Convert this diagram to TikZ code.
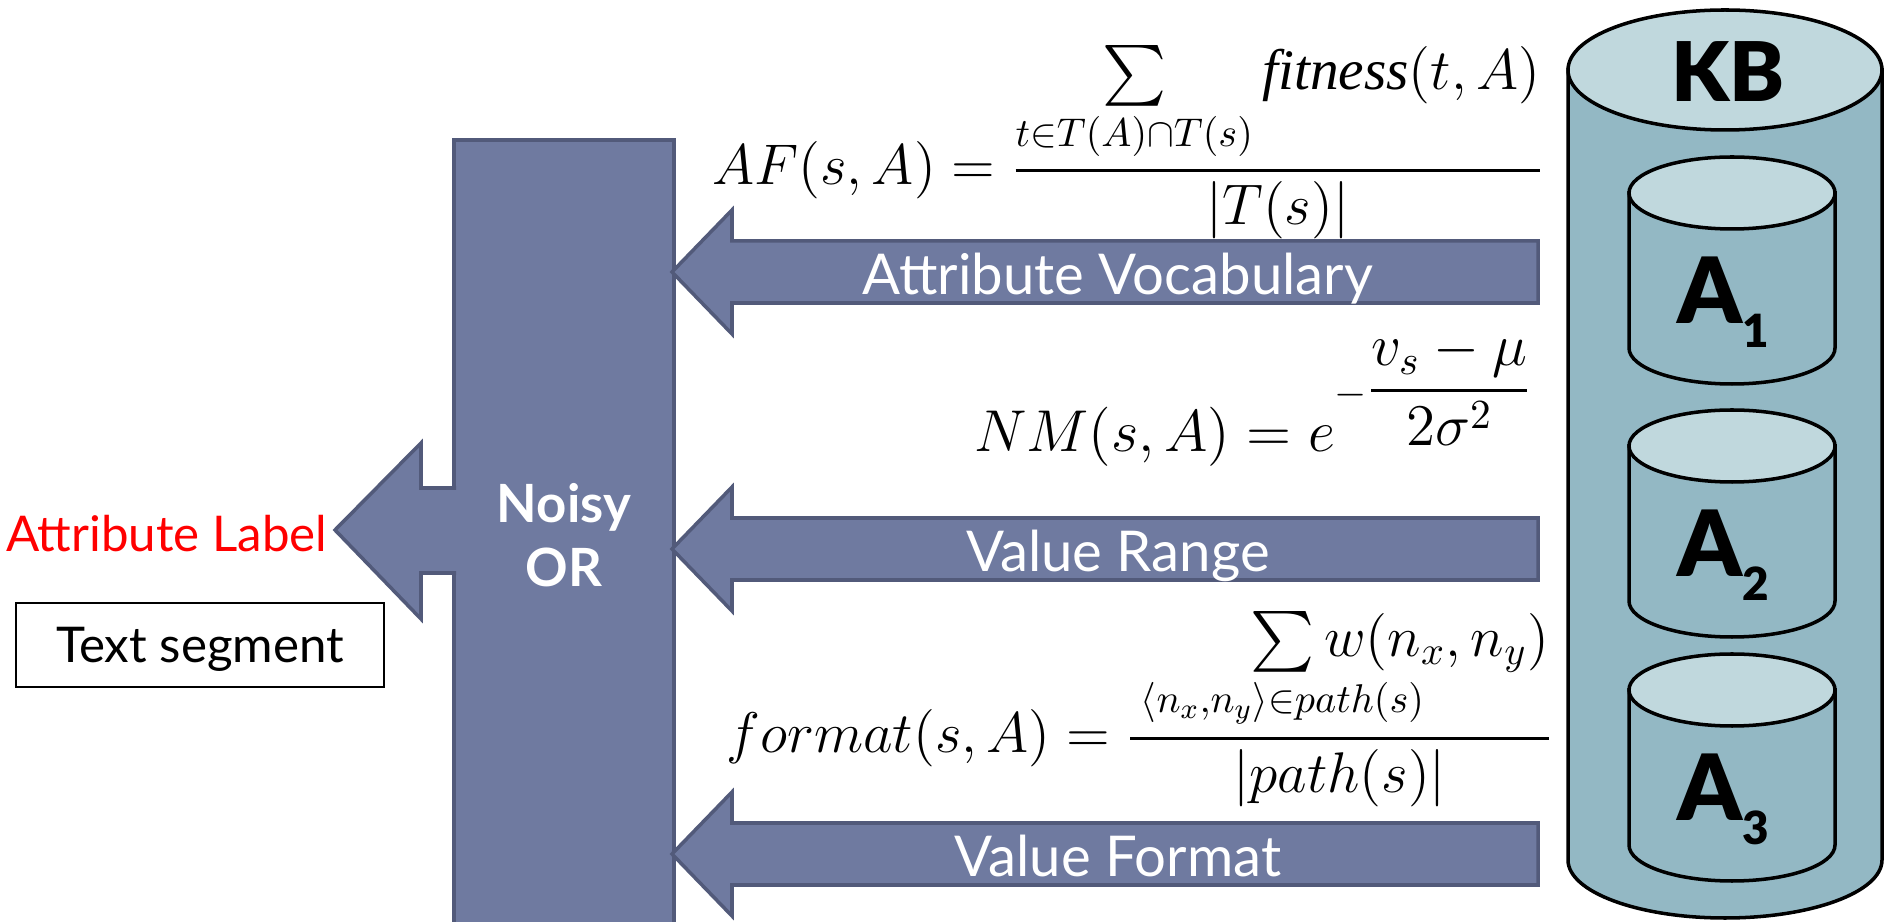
\RequirePackage{fix-cm}
\documentclass[tikz,border=0pt]{standalone}
\usepackage{amsmath,mathtools}
\usepackage{fontspec}
\setmainfont{Lato}
\newfontfamily\heavyfont{Lato Black}
\newfontfamily\fitfont{Liberation Serif}
\usepackage{xcolor}
\usepackage{tikz}
\usetikzlibrary{calc}

\definecolor{arrowblue}{RGB}{111,122,160}
\definecolor{arrowedge}{RGB}{82,90,122}
\definecolor{kbbody}{RGB}{147,184,196}
\definecolor{kbtop}{RGB}{192,216,221}

\begin{document}
\begin{tikzpicture}[
    x=0.01cm, y=-0.01cm,
    every node/.style={inner sep=0pt},
    blockarrow/.style={fill=arrowblue, draw=arrowedge, line width=1pt, line join=miter},
    arrowtext/.style={text=white, font=\fontsize{16}{19}\selectfont, anchor=base},
    formula/.style={font=\fontsize{16.3}{20}\selectfont, anchor=base east},
    cylbody/.style={fill=kbbody, draw=black, line width=1pt},
    cyltop/.style={fill=kbtop, draw=black, line width=1pt},
    dblabel/.style={font=\heavyfont\fontsize{26}{26}\selectfont, anchor=base west}
]

\clip (0,0) rectangle (1884,922);
\fill[white] (0,0) rectangle (1884,922);

% Noisy OR combiner
\node (noisy) [rectangle, fill=arrowblue, draw=arrowedge, line width=1pt,
    minimum width=2.2cm, minimum height=7.9cm, anchor=north west,
    align=center, text=white, font=\bfseries\fontsize{15}{18.2}\selectfont] at (452,138) {Noisy\\OR};

% Output arrow
\coordinate (tip) at (335,530);
\filldraw[blockarrow] (456,488) -- (421,488) -- (421,443) -- (tip) -- (421,619) -- (421,573) -- (456,573);

\node (label) [text=red, font=\fontsize{14}{17}\selectfont, anchor=base east] at (328,552) {Attribute Label};

\node (segment) [draw, line width=0.6pt, minimum width=3.68cm, minimum height=0.84cm,
    text height=0.35cm, text depth=0pt, font=\fontsize{14}{17}\selectfont] at (200,645) {Text segment};

% Feature arrows into Noisy OR
\foreach \y/\name/\txt in {272/vocab/Attribute Vocabulary, 549/range/Value Range, 854/valfmt/Value Format} {
    \filldraw[blockarrow] (672,\y) -- (732,\y-62) -- (732,\y-31) -- (1538,\y-31)
        -- (1538,\y+31) -- (732,\y+31) -- (732,\y+62) -- cycle;
    \node (\name) [arrowtext] at (1118,\y+23) {\txt};
}

% Formulas
\node (af) [formula] at (1545,185)
    {$AF(s,A) = \dfrac{\sum\limits_{t\in T(A)\cap T(s)} \mbox{\fitfont\itshape fitness}(t,A)}{|T(s)|}$};
\node (nm) [formula, font=\fontsize{16.8}{20}\selectfont] at (1534,452)
    {$NM(s,A) = e^{-\displaystyle\frac{v_s - \mu}{2\sigma^2}}$};
\node (fmt) [formula] at (1554,753)
    {$format(s,A) = \dfrac{\hspace{1.2cm}\sum\limits_{\mathclap{\langle n_x,n_y\rangle\in path(s)}} w(n_x,n_y)}{|path(s)|}$};

% Knowledge base
\filldraw[cylbody] (1568,70) -- (1568,860) arc[start angle=180, end angle=0, x radius=157, y radius=58] -- (1882,70) -- cycle;
\filldraw[cyltop] (1725,70) ellipse[x radius=157, y radius=60];
\node (kb) [font=\heavyfont\fontsize{23.4}{23.4}\selectfont, anchor=base] at (1728,102) {KB};

\foreach \cy/\num in {193/1, 446/2, 690/3} {
    \filldraw[cylbody] (1629,\cy) -- (1629,\cy+155) arc[start angle=180, end angle=0, x radius=103, y radius=36] -- (1835,\cy) -- cycle;
    \filldraw[cyltop] (1732,\cy) ellipse[x radius=103, y radius=36];
    \node (a\num) [dblabel] at (1677,\cy+131) {A\raisebox{-6.8pt}{\fontsize{13}{13}\selectfont\num}};
}

\end{tikzpicture}
\end{document}
